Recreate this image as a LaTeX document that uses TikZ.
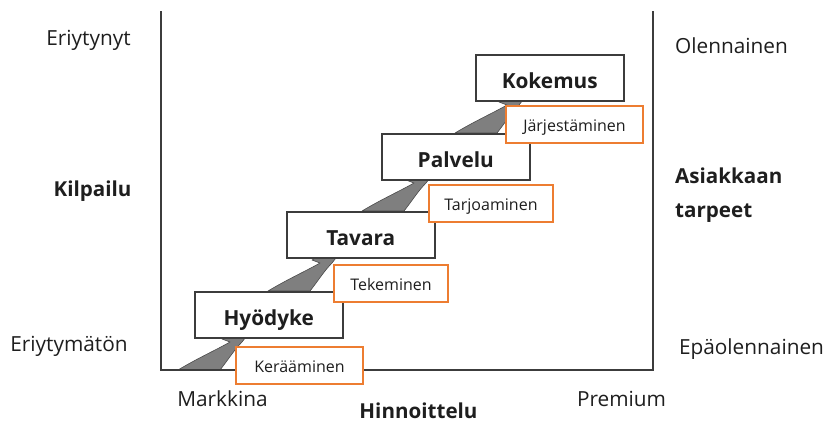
\documentclass[tikz,border=0pt]{standalone}
\usepackage{fontspec}
\setmainfont{Open Sans}
\usetikzlibrary{calc,backgrounds}
\definecolor{boxgray}{HTML}{3C3C3C}
\definecolor{orng}{HTML}{ED7D31}
\definecolor{arrgray}{HTML}{7F7F7F}
\definecolor{arredge}{HTML}{4A4A4A}
\definecolor{txt}{HTML}{1E1E1E}
\begin{document}
\begin{tikzpicture}[x=1pt,y=-1pt,
  stage/.style={draw=boxgray, line width=1.5pt, fill=white, minimum width=148pt, minimum height=46pt, inner sep=0pt, anchor=north west, text height=20.5pt, text depth=0pt, font=\fontsize{20.8}{24}\selectfont\bfseries, text=txt},
  act/.style={draw=orng, line width=2pt, fill=white, minimum height=37pt, inner sep=0pt, anchor=north west, text height=13pt, text depth=0pt, font=\fontsize{16}{19}\selectfont, text=txt},
  lab/.style={anchor=base, inner sep=0pt, font=\fontsize{20.8}{24}\selectfont, text=txt},
  blab/.style={anchor=base, inner sep=0pt, font=\fontsize{20.6}{24}\selectfont\bfseries, text=txt},
  frame/.style={draw=boxgray, line width=1.8pt},
  pics/blockarrow/.style={code={
    \fill[fill=arrgray, draw=arredge, line width=0.6pt, line join=round]
      (0,0) -- (42,0) .. controls (50,-10) and (56,-20) .. (64,-28)
      -- (78,-46) -- (82,-52) -- (44,-31) -- (52,-28)
      .. controls (38,-20) and (20,-12) .. (0,0) -- cycle;
  }}
]
\useasboundingbox (0,0) rectangle (827,424);
% frame
\coordinate (ftl) at (161,11);
\coordinate (fbl) at (161,370);
\coordinate (fbr) at (653,370);
\coordinate (ftr) at (653,11);
\draw[frame] (ftl) -- (fbl) -- (fbr) -- (ftr);
\coordinate (a1) at (178,370);
% stages
\node[stage] (hyo) at (194,291) {Hyödyke};
\node[stage] (tav) at (286,211) {Tavara};
\node[stage] (pal) at (381,133) {Palvelu};
\node[stage] (kok) at (475,54) {Kokemus};
% block arrows behind the boxes
\begin{scope}[on background layer]
  \pic at (a1) {blockarrow};
  \pic at ($(hyo.north west)+(74,0)$) {blockarrow};
  \pic at ($(tav.north west)+(76,0)$) {blockarrow};
  \pic at ($(pal.north west)+(74,0)$) {blockarrow};
\end{scope}
% activities
\node[act, minimum width=127pt] (ker) at (235,346) {Kerääminen};
\node[act, minimum width=114pt] (tek) at (333,264) {Tekeminen};
\node[act, minimum width=124pt] (tar) at (428,184) {Tarjoaminen};
\node[act, minimum width=137pt] (jar) at (505,105) {Järjestäminen};
% axis labels
\node[lab] (eri) at (88.5,45) {Eriytynyt};
\node[blab] (kil) at (92.5,196) {Kilpailu};
\node[lab] (erm) at (69,351) {Eriytymätön};
\node[lab] (mar) at (222.5,406) {Markkina};
\node[blab] (hin) at (418.5,418) {Hinnoittelu};
\node[lab] (pre) at (621.5,406) {Premium};
\node[lab] (ole) at (731.5,53) {Olennainen};
\node[blab, anchor=base west] (asi) at (675,183) {Asiakkaan};
\node[blab, anchor=base west] (tarp) at (675,217) {tarpeet};
\node[lab] (epa) at (751.5,354) {Epäolennainen};
\end{tikzpicture}
\end{document}
